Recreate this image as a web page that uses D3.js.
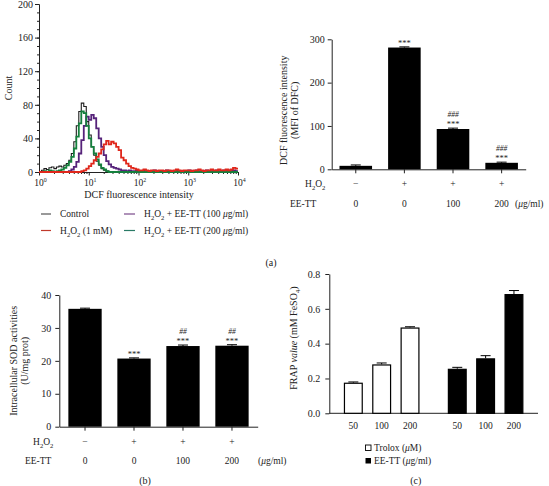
<!DOCTYPE html>
<html><head><meta charset="utf-8">
<script src="https://cdn.jsdelivr.net/npm/d3@7"></script>
<style>
body{margin:0;background:#fff}
svg{display:block}
text{font-family:"Liberation Serif","Times New Roman",serif;fill:#222}
</style>
</head><body>
<svg id="c" width="549" height="486"></svg>
<script>
// ---------- DATA ----------
// (a) left: flow cytometry histograms, counts per 0.05-decade bin from 10^0 to 10^4
const histLogStep = 0.05;
const controlCounts = [0,2,4,3,5,6,4,6,7,6, 8,10,14,22,36,55,72,82,78,60, 44,30,20,13,8,4,2,1,0,0,
  0,0,0,0,0,0,0,0,0,0, 0,0,0,0,0,0,0,0,0,0, 0,0,0,0,0,0,0,0,0,0, 0,0,0,0,0,0,0,0,0,0, 0,0,0,0,0,0,0,0,0,0];
const ee100Counts = [0,0,0,0,0,0,0,0,0,0, 0,0,1,3,6,12,22,38,55,66, 62,68,64,52,40,30,20,13,9,6,
  5,4,3,2,2,1,2,1,1,2, 1,1,2,1,1,1,2,1,1,1, 1,2,1,1,1,2,1,1,1,1, 2,1,1,2,1,1,1,2,1,1, 1,2,1,1,2,1,2,1,2,1];
const ee200Counts = [0,0,1,0,2,1,0,1,2,3, 5,8,12,18,28,42,58,72,70,55, 40,30,22,15,9,5,3,1,0,0,
  0,0,0,0,0,0,0,0,0,0, 0,0,0,0,0,0,0,0,0,0, 0,0,0,0,0,0,0,0,0,0, 0,0,0,0,0,0,0,0,0,0, 0,0,0,0,0,0,0,0,0,0];
const h2o2Counts = [0,0,0,0,0,0,0,0,0,0, 0,0,0,0,0,0,0,1,2,4, 7,10,14,18,22,27,33,37,33,36,
  34,30,26,17,14,10,7,5,4,3, 2,2,3,2,1,2,2,1,2,2, 1,2,2,1,2,3,2,1,2,2, 2,1,2,2,3,2,1,2,2,3, 2,2,3,2,2,3,2,3,5,4];
const histYTicks = [0,40,80,120,160,200];
const histXDecades = [0,1,2,3,4];

// (a) right: DCF MFI
const groupKeys = ["g1","g2","g3","g4"];
const h2o2Row = ["\u2212","+","+","+"];
const eeRow = ["0","0","100","200"];
const dcfValues = [8,281,93,15];
const dcfErr = [2,1.5,2,1.5];
const dcfSigTop = ["","","###","###"];
const dcfSigBottom = ["","***","***","***"];
const dcfYTicks = [0,100,200,300];

// (b) SOD activities
const sodValues = [35.8,20.7,24.5,24.6];
const sodErr = [0.2,0.2,0.3,0.3];
const sodSigTop = ["","","##","##"];
const sodSigBottom = ["","***","***","***"];
const sodYTicks = [0,10,20,30,40];

// (c) FRAP
const frapGroups = ["Trolox","EE-TT"];
const doses = ["50","100","200"];
const troloxValues = [0.176,0.281,0.493];
const troloxErr = [0.004,0.008,0.004];
const eeValues = [0.256,0.316,0.685];
const eeErr = [0.008,0.015,0.02];
const frapYTicks = [0,0.2,0.4,0.6,0.8];

// ---------- HELPERS ----------
const svg = d3.select("#c");
const INK = "#222";
function rich(g, x, y, segs, anchor, size) {
  const fs = size || 10;
  const t = g.append("text").attr("x", x).attr("y", y)
    .attr("text-anchor", anchor || "start").attr("font-size", fs);
  segs.forEach(s => {
    if (typeof s === "string") { t.append("tspan").text(s); return; }
    const ts = t.append("tspan").text(s.t);
    if (s.sub) ts.attr("baseline-shift", -2.5).attr("font-size", fs * 0.7);
    if (s.sup) ts.attr("baseline-shift", 4).attr("font-size", fs * 0.62);
    if (s.it) ts.attr("font-style", "italic");
  });
  return t;
}
function styleAxis(g) {
  g.selectAll("path.domain").attr("stroke", INK).attr("stroke-width", 1);
  g.selectAll(".tick line").attr("stroke", INK).attr("stroke-width", 1);
  g.selectAll(".tick text").attr("font-family", "Liberation Serif").attr("font-size", 10).attr("fill", INK);
}
const H2O2 = ["H", {t:"2",sub:true}, "O", {t:"2",sub:true}];

// ---------- (a) left histogram ----------
{
  const g = svg.append("g");
  const x = d3.scaleLog().domain([1, 1e4]).range([39, 238]);
  const y = d3.scaleLinear().domain([0, 200]).range([172, 4]);
  const yMinor = g.append("g").attr("transform", "translate(39,0)")
    .call(d3.axisLeft(y).tickValues(d3.range(0, 201, 10)).tickSize(2).tickSizeOuter(0).tickFormat(""));
  styleAxis(yMinor);
  const yAx = g.append("g").attr("transform", "translate(39,0)")
    .call(d3.axisLeft(y).tickValues(histYTicks).tickSize(4).tickSizeOuter(0).tickPadding(2));
  styleAxis(yAx);
  const minorX = [];
  histXDecades.slice(0, -1).forEach(d => { for (let k = 2; k <= 9; k++) minorX.push(k * Math.pow(10, d)); });
  const xMinor = g.append("g").attr("transform", "translate(0,172)")
    .call(d3.axisBottom(x).tickValues(minorX).tickSize(2).tickSizeOuter(0).tickFormat(""));
  styleAxis(xMinor);
  const xAx = g.append("g").attr("transform", "translate(0,172)")
    .call(d3.axisBottom(x).tickValues(histXDecades.map(d => Math.pow(10, d))).tickSize(3.5).tickSizeOuter(0).tickFormat(""));
  styleAxis(xAx);
  histXDecades.forEach(d => {
    rich(g, x(Math.pow(10, d)) + 1.5, 186, ["10", {t: String(d), sup: true}], "middle", 9.5);
  });
  g.append("text").attr("x", 139).attr("y", 198).attr("text-anchor", "middle").attr("font-size", 10)
    .text("DCF fluorescence intensity");
  g.append("text").attr("transform", "translate(12,88) rotate(-90)").attr("text-anchor", "middle")
    .attr("font-size", 10).text("Count");

  const series = [
    {vals: controlCounts, color: "#1e1e1e", w: 1.1},
    {vals: ee100Counts, color: "#56237a", w: 1.8},
    {vals: ee200Counts, color: "#15803d", w: 1.8},
    {vals: h2o2Counts, color: "#e0271b", w: 1.8}
  ];
  const line = d3.line().curve(d3.curveStepAfter).x(d => x(d[0])).y(d => y(d[1]));
  series.forEach(s => {
    const pts = s.vals.map((v, i) => [Math.pow(10, i * histLogStep), v]);
    pts.push([Math.pow(10, s.vals.length * histLogStep), s.vals[s.vals.length - 1]]);
    g.append("path").attr("d", line(pts)).attr("fill", "none").attr("stroke", s.color)
      .attr("stroke-width", s.w).attr("stroke-linejoin", "miter");
  });

  const leg = [
    {x1: 41, x2: 51, tx: 60, y: 214, color: "#555", segs: ["Control"]},
    {x1: 41, x2: 51, tx: 60, y: 230.5, color: "#c0392b", segs: [...H2O2, " (1 mM)"]},
    {x1: 124, x2: 135, tx: 144, y: 214, color: "#7a4a8a", segs: [...H2O2, " + EE-TT (100 ", {t: "\u03bc", it: true}, "g/ml)"]},
    {x1: 124, x2: 135, tx: 144, y: 230.5, color: "#2a7a66", segs: [...H2O2, " + EE-TT (200 ", {t: "\u03bc", it: true}, "g/ml)"]}
  ];
  leg.forEach(l => {
    g.append("line").attr("x1", l.x1).attr("x2", l.x2).attr("y1", l.y).attr("y2", l.y)
      .attr("stroke", l.color).attr("stroke-width", 1.2);
    rich(g, l.tx, l.y + 3.3, l.segs, "start", 9.5);
  });
  g.append("text").attr("x", 271).attr("y", 265.5).attr("text-anchor", "middle").attr("font-size", 10).text("(a)");
}

// ---------- bar panel helper ----------
function barPanel(opts) {
  const g = svg.append("g");
  const x = d3.scaleBand().domain(groupKeys).range(opts.xr).paddingInner(opts.pi).paddingOuter(opts.po);
  const y = d3.scaleLinear().domain(opts.yd).range(opts.yr);
  const yAx = g.append("g").attr("transform", `translate(${opts.xr[0]},0)`)
    .call(d3.axisLeft(y).tickValues(opts.yTicks).tickSize(4).tickSizeOuter(0).tickPadding(opts.tp));
  styleAxis(yAx);
  const xAx = g.append("g").attr("transform", `translate(0,${opts.yr[0]})`)
    .call(d3.axisBottom(x).tickSize(4).tickSizeOuter(0).tickFormat(""));
  styleAxis(xAx);
  groupKeys.forEach((k, i) => {
    const v = opts.values[i], e = opts.err[i];
    const cx = x(k) + x.bandwidth() / 2;
    g.append("rect").attr("x", x(k)).attr("y", y(v)).attr("width", x.bandwidth())
      .attr("height", y(0) - y(v)).attr("fill", "#000");
    g.append("line").attr("x1", cx).attr("x2", cx).attr("y1", y(v)).attr("y2", y(v + e)).attr("stroke", "#000");
    g.append("line").attr("x1", cx - 5).attr("x2", cx + 5).attr("y1", y(v + e)).attr("y2", y(v + e)).attr("stroke", "#000");
    if (opts.sigB[i]) g.append("text").attr("x", cx).attr("y", y(v + e) - 1).attr("text-anchor", "middle")
      .attr("font-size", 8.5).attr("fill", "#666").text(opts.sigB[i]);
    if (opts.sigT[i]) g.append("text").attr("x", cx).attr("y", y(v + e) - 11).attr("text-anchor", "middle")
      .attr("font-size", 7.5).attr("fill", "#666").attr("font-style", "italic").text(opts.sigT[i]);
    g.append("text").attr("x", cx).attr("y", opts.row1 + 3.5).attr("text-anchor", "middle").attr("font-size", 9.5).text(h2o2Row[i]);
    g.append("text").attr("x", cx).attr("y", opts.row2 + 3.5).attr("text-anchor", "middle").attr("font-size", 9.5).text(eeRow[i]);
  });
  rich(g, opts.h2o2x, opts.row1 + 3.5, H2O2, "start", 9.5);
  g.append("text").attr("x", opts.eex).attr("y", opts.row2 + 3.5).attr("font-size", 9.5).text("EE-TT");
  rich(g, opts.unitx, opts.row2 + 3.5, ["(", {t: "\u03bc", it: true}, "g/ml)"], "start", 9.5);
  const cy = (opts.yr[0] + opts.yr[1]) / 2;
  opts.ylab.forEach((s, j) => {
    g.append("text").attr("transform", `translate(${opts.ylabx[j]},${cy + opts.ylabdy}) rotate(-90)`)
      .attr("text-anchor", "middle").attr("font-size", 10).text(s);
  });
  return g;
}

// ---------- (a) right ----------
barPanel({
  xr: [331.7, 525.7], pi: 0.33, po: 0.16, yd: [0, 300], yr: [169.3, 39.3], yTicks: dcfYTicks, tp: 3,
  values: dcfValues, err: dcfErr, sigT: dcfSigTop, sigB: dcfSigBottom,
  row1: 183.3, row2: 203.3, h2o2x: 305, eex: 290, unitx: 515,
  ylab: ["DCF fluorescence intensity", "(MFI of DFC)"], ylabx: [287, 298], ylabdy: 6
});

// ---------- (b) ----------
const gb = barPanel({
  xr: [59.3, 257.7], pi: 0.32, po: 0.185, yd: [0, 40], yr: [426.7, 295], yTicks: sodYTicks, tp: 4,
  values: sodValues, err: sodErr, sigT: sodSigTop, sigB: sodSigBottom,
  row1: 441.7, row2: 460, h2o2x: 33, eex: 25, unitx: 258,
  ylab: ["Intracellular SOD activities", "(U/mg prot)"], ylabx: [17, 27.5], ylabdy: 0
});
gb.append("text").attr("x", 145).attr("y", 484).attr("text-anchor", "middle").attr("font-size", 10).text("(b)");

// ---------- (c) ----------
{
  const g = svg.append("g");
  const y = d3.scaleLinear().domain([0, 0.8]).range([413.3, 274]);
  const xo = d3.scaleBand().domain(frapGroups).range([329.3, 538]).paddingInner(0.272).paddingOuter(0.14);
  const xi = d3.scaleBand().domain(doses).range([0, xo.bandwidth()]).paddingInner(0.33).paddingOuter(0);
  const yAx = g.append("g").attr("transform", "translate(329.3,0)")
    .call(d3.axisLeft(y).tickValues(frapYTicks).tickSize(4).tickSizeOuter(0).tickPadding(5).tickFormat(d3.format(".1f")));
  styleAxis(yAx);
  g.append("line").attr("x1", 329.3).attr("x2", 538).attr("y1", 413.3).attr("y2", 413.3).attr("stroke", INK);
  const sets = [
    {grp: "Trolox", vals: troloxValues, err: troloxErr, fill: "#fff"},
    {grp: "EE-TT", vals: eeValues, err: eeErr, fill: "#000"}
  ];
  sets.forEach(s => {
    doses.forEach((d, i) => {
      const bx = xo(s.grp) + xi(d), bw = xi.bandwidth(), cx = bx + bw / 2;
      const v = s.vals[i], e = s.err[i];
      g.append("line").attr("x1", cx).attr("x2", cx).attr("y1", y(v)).attr("y2", y(v + e)).attr("stroke", "#000");
      g.append("line").attr("x1", cx - 5).attr("x2", cx + 5).attr("y1", y(v + e)).attr("y2", y(v + e)).attr("stroke", "#000");
      g.append("rect").attr("x", bx + 0.6).attr("y", y(v) + 0.6).attr("width", bw - 1.2)
        .attr("height", y(0) - y(v) - 0.6).attr("fill", s.fill).attr("stroke", "#000").attr("stroke-width", 1.2);
      g.append("text").attr("x", cx).attr("y", 428.5).attr("text-anchor", "middle").attr("font-size", 9.5).text(d);
    });
  });
  g.append("text").attr("transform", "translate(296.5,338) rotate(-90)").attr("text-anchor", "middle")
    .attr("font-size", 10).call(t => {
      t.append("tspan").text("FRAP ");
      t.append("tspan").attr("font-style", "italic").text("value");
      t.append("tspan").text(" (mM FeSO");
      t.append("tspan").attr("baseline-shift", -2.5).attr("font-size", 7).text("4");
      t.append("tspan").text(")");
    });
  g.append("rect").attr("x", 365.5).attr("y", 445).attr("width", 5.5).attr("height", 5.5)
    .attr("fill", "#fff").attr("stroke", "#000").attr("stroke-width", 0.9);
  g.append("rect").attr("x", 365.5).attr("y", 458).attr("width", 5.5).attr("height", 5.5).attr("fill", "#000");
  rich(g, 374, 451, ["Trolox (", {t: "\u03bc", it: true}, "M)"], "start", 9.5);
  rich(g, 374, 464, ["EE-TT (", {t: "\u03bc", it: true}, "g/ml)"], "start", 9.5);
  g.append("text").attr("x", 415.7).attr("y", 484).attr("text-anchor", "middle").attr("font-size", 10).text("(c)");
}
</script>
</body></html>
